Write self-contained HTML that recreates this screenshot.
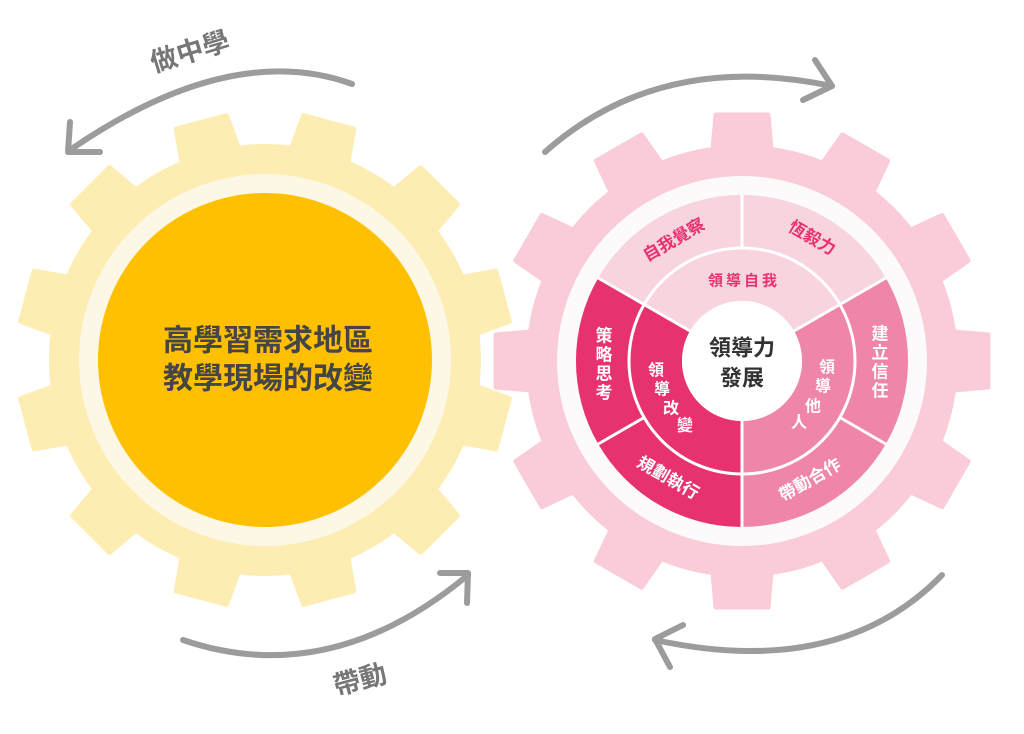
<!DOCTYPE html>
<html><head><meta charset="utf-8"><style>
html,body{margin:0;padding:0;background:#fff;}
svg{display:block;}
text{font-family:"Liberation Sans","Noto Sans CJK TC",sans-serif;font-weight:bold;}
</style></head><body>
<svg width="1024" height="734" viewBox="0 0 1024 734" xmlns="http://www.w3.org/2000/svg">
<defs>
<polygon id="tooth" points="-30,-200 -26,-246 26,-246 30,-200" stroke-linejoin="round" stroke-width="5"/>
</defs>
<!-- Left gear -->
<g transform="translate(265,360)" fill="#fdedb3" stroke="#fdedb3">
<circle r="216" stroke="none"/>
<use href="#tooth" transform="rotate(15)"/><use href="#tooth" transform="rotate(45)"/><use href="#tooth" transform="rotate(75)"/><use href="#tooth" transform="rotate(105)"/><use href="#tooth" transform="rotate(135)"/><use href="#tooth" transform="rotate(165)"/><use href="#tooth" transform="rotate(195)"/><use href="#tooth" transform="rotate(225)"/><use href="#tooth" transform="rotate(255)"/><use href="#tooth" transform="rotate(285)"/><use href="#tooth" transform="rotate(315)"/><use href="#tooth" transform="rotate(345)"/>
</g>
<circle cx="265" cy="360" r="186" fill="#fdf7e5"/>
<circle cx="265" cy="360" r="167" fill="#fec000"/>
<text x="268" y="341" font-size="30" fill="#454545" text-anchor="middle" dominant-baseline="central">高學習需求地區</text>
<text x="268" y="379" font-size="30" fill="#454545" text-anchor="middle" dominant-baseline="central">教學現場的改變</text>
<!-- Right gear -->
<g transform="translate(742,361)" fill="#f9ccd7" stroke="#f9ccd7">
<circle r="216" stroke="none"/>
<use href="#tooth" transform="rotate(0)"/><use href="#tooth" transform="rotate(30)"/><use href="#tooth" transform="rotate(60)"/><use href="#tooth" transform="rotate(90)"/><use href="#tooth" transform="rotate(120)"/><use href="#tooth" transform="rotate(150)"/><use href="#tooth" transform="rotate(180)"/><use href="#tooth" transform="rotate(210)"/><use href="#tooth" transform="rotate(240)"/><use href="#tooth" transform="rotate(270)"/><use href="#tooth" transform="rotate(300)"/><use href="#tooth" transform="rotate(330)"/>
</g>
<circle cx="742" cy="361" r="185" fill="#fcfafa"/>
<path d="M885.8,278 A166,166 0 0 0 598.2,278 L690,331 A60,60 0 0 1 794,331 Z" fill="#f7d4de"/>
<path d="M742,527 A166,166 0 0 0 885.8,278 L794,331 A60,60 0 0 1 742,421 Z" fill="#ef85a8"/>
<path d="M598.2,278 A166,166 0 0 0 742,527 L742,421 A60,60 0 0 1 690,331 Z" fill="#e7326f"/>
<g stroke="#fff" stroke-width="3" fill="none">
<circle cx="742" cy="361" r="113"/>
<line x1="794" y1="331" x2="885.8" y2="278"/>
<line x1="690" y1="331" x2="598.2" y2="278"/>
<line x1="742" y1="421" x2="742" y2="527"/>
<line x1="742" y1="248" x2="742" y2="195"/>
<line x1="839.9" y1="417.5" x2="885.8" y2="444"/>
<line x1="644.1" y1="417.5" x2="598.2" y2="444"/>
</g>
<circle cx="742" cy="361" r="60" fill="#fff"/>
<text x="742" y="348" font-size="22" fill="#333" text-anchor="middle" dominant-baseline="central">領導力</text>
<text x="742" y="378" font-size="22" fill="#333" text-anchor="middle" dominant-baseline="central">發展</text>
<g font-size="17" text-anchor="middle" dominant-baseline="central">
<text x="674" y="240" fill="#e7326f" transform="rotate(-30 674 240)">自我覺察</text>
<text x="812" y="238" fill="#e7326f" transform="rotate(30 812 238)">恆毅力</text>
<text x="744" y="281" fill="#e7326f" font-size="15" letter-spacing="3">領導自我</text>
<text x="668" y="478" fill="#fff" transform="rotate(30 668 478)">規劃執行</text>
<text x="810" y="480" fill="#fff" transform="rotate(-30 810 480)">帶動合作</text>
<g fill="#fff">
<text x="604" y="336">策</text><text x="604" y="355">略</text><text x="604" y="374">思</text><text x="604" y="393">考</text>
<text x="880" y="334">建</text><text x="880" y="353">立</text><text x="880" y="372">信</text><text x="880" y="391">任</text>
<text x="656" y="371" font-size="16">領</text><text x="662" y="390" font-size="16">導</text><text x="671" y="409" font-size="16">改</text><text x="685" y="426" font-size="16">變</text>
<text x="827" y="368" font-size="16">領</text><text x="823" y="387" font-size="16">導</text><text x="813" y="407" font-size="16">他</text><text x="799" y="423" font-size="16">人</text>
</g>
</g>
<!-- Arrows -->
<g stroke="#9c9c9c" stroke-width="6" fill="none" stroke-linecap="round" stroke-linejoin="round">
<path d="M352,84 Q230,40 70,150"/>
<path d="M70,122 L68,152 L100,152"/>
<path d="M183,640 Q330,690 468,575"/>
<path d="M440,573 L468,573 L467,603"/>
<path d="M545,152 Q660,50 832,86"/>
<path d="M815,60 L832,86 L803,100"/>
<path d="M942,575 Q840,680 655,640"/>
<path d="M683,625 L655,639 L670,667"/>
</g>
<text x="190" y="52" font-size="27" fill="#777" text-anchor="middle" dominant-baseline="central" transform="rotate(-17 190 52)">做中學</text>
<text x="360" y="680" font-size="27" fill="#777" text-anchor="middle" dominant-baseline="central" transform="rotate(-15 360 680)">帶動</text>
</svg>
</body></html>
